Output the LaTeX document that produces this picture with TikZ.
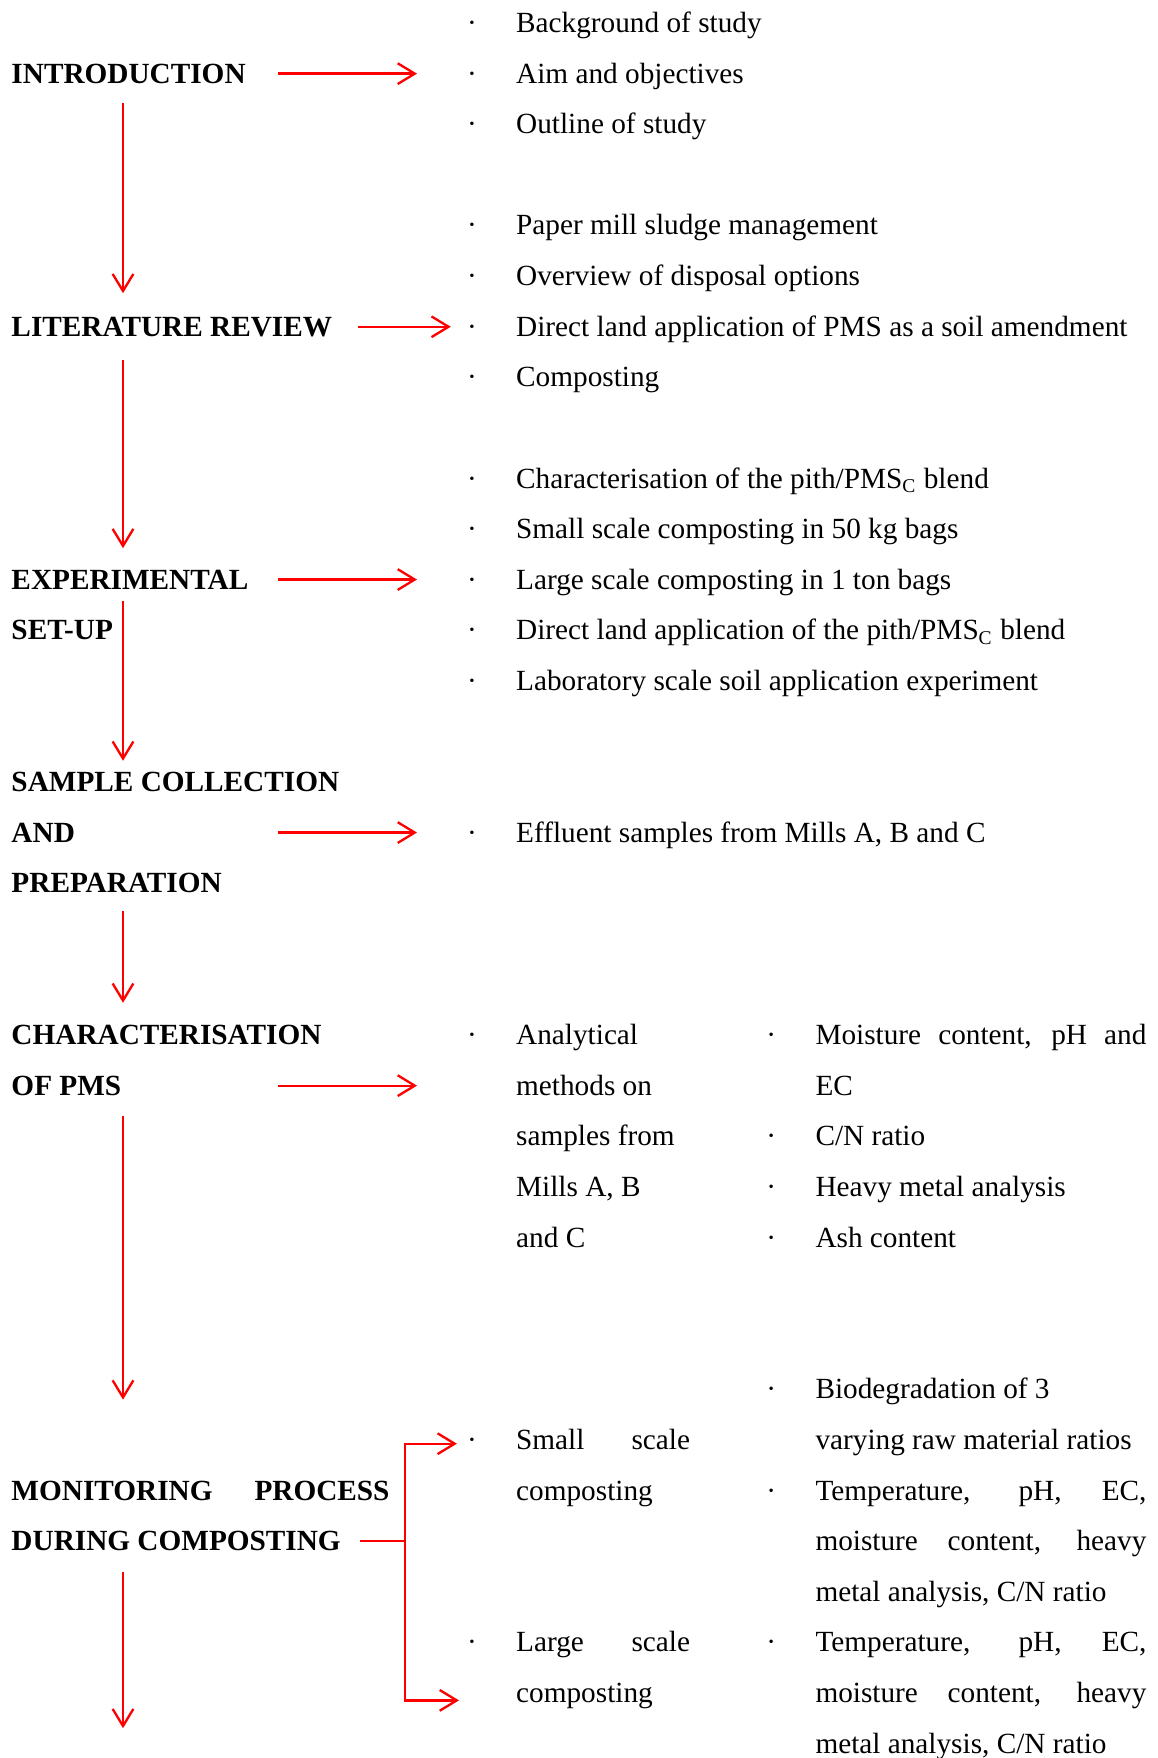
\documentclass[tikz,border=0pt]{standalone}
\usepackage{fontspec}
\setmainfont{Liberation Serif}
\usetikzlibrary{arrows.meta}
\def\bitem(#1,#2)#3#4{\node[bul] (#3b) at (#1,#2) {\textperiodcentered}; \node[txt] (#3) at (#1+43.7,#2) {#4};}
\def\jline#1#2{\makebox[#1][s]{#2}}

\begin{document}
\begin{tikzpicture}[x=0.41pt, y=-20.746pt,
		lbl/.style={anchor=base west, inner sep=0pt, font=\fontsize{12}{14}\selectfont\bfseries},
		txt/.style={anchor=base west, inner sep=0pt, font=\fontsize{12}{14}\selectfont},
		bul/.style={anchor=base, inner sep=0pt, font=\fontsize{12}{14}\selectfont},
		link/.style={red, line width=0.95pt},
		flow/.style={link, -{Straight Barb[length=7pt, width=8.5pt]}}]
		%%%%% START %%%%%
		
		\useasboundingbox (0,-0.644) rectangle (1157,34.099);
		
		\coordinate (spine) at (123,0);
		\coordinate (hs) at (278,0);
		\coordinate (he) at (417,0);
		\coordinate (fork) at (405,0);
		
		\node[lbl] (intro) at (11,1) {INTRODUCTION};
		\node[lbl] (litrev) at (11,6) {LITERATURE REVIEW};
		\node[lbl] (expt) at (11,11) {EXPERIMENTAL};
		\node[lbl] (setup) at (11,12) {SET-UP};
		\node[lbl] (sample) at (11,15) {SAMPLE COLLECTION};
		\node[lbl] (and) at (11,16) {AND};
		\node[lbl] (prep) at (11,17) {PREPARATION};
		\node[lbl] (charac) at (11,20) {CHARACTERISATION};
		\node[lbl] (ofpms) at (11,21) {OF PMS};
		\node[lbl] (monitor) at (11,29) {\jline{155pt}{MONITORING PROCESS}};
		\node[lbl] (during) at (11,30) {DURING COMPOSTING};
		
		\bitem(472,0){bg}{Background of study}
		\bitem(472,1){aim}{Aim and objectives}
		\bitem(472,2){outline}{Outline of study}
		
		\bitem(472,4){pms}{Paper mill sludge management}
		\bitem(472,5){overview}{Overview of disposal options}
		\bitem(472,6){direct}{Direct land application of PMS as a soil amendment}
		\bitem(472,7){compost}{Composting}
		
		\bitem(472,9){blend}{Characterisation of the pith/PMS\textsubscript{C} blend}
		\bitem(472,10){small}{Small scale composting in 50 kg bags}
		\bitem(472,11){large}{Large scale composting in 1 ton bags}
		\bitem(472,12){landapp}{Direct land application of the pith/PMS\textsubscript{C} blend}
		\bitem(472,13){lab}{Laboratory scale soil application experiment}
		
		\bitem(472,16){effluent}{Effluent samples from Mills A, B and C}
		
		\bitem(472,20){anal}{Analytical}
		\node[txt] (anal2) at (515.7,21) {methods on};
		\node[txt] (anal3) at (515.7,22) {samples from};
		\node[txt] (anal4) at (515.7,23) {Mills A, B};
		\node[txt] (anal5) at (515.7,24) {and C};
		\bitem(771.3,20){moist}{\jline{135.7pt}{Moisture content, pH and}}
		\node[txt] (moist2) at (815,21) {EC};
		\bitem(771.3,22){cn}{C/N ratio}
		\bitem(771.3,23){heavy}{Heavy metal analysis}
		\bitem(771.3,24){ash}{Ash content}
		
		\bitem(771.3,27){biodeg}{Biodegradation of 3}
		\node[txt] (biodeg2) at (815,28) {varying raw material ratios};
		\bitem(472,28){smallsc}{\jline{71.3pt}{Small scale}}
		\node[txt] (smallsc2) at (515.7,29) {composting};
		\bitem(771.3,29){temp}{\jline{135.7pt}{Temperature, pH, EC,}}
		\node[txt] (temp2) at (815,30) {\jline{135.7pt}{moisture content, heavy}};
		\node[txt] (temp3) at (815,31) {metal analysis, C/N ratio};
		\bitem(472,32){largesc}{\jline{71.3pt}{Large scale}}
		\node[txt] (largesc2) at (515.7,33) {composting};
		\bitem(771.3,32){tempb}{\jline{135.7pt}{Temperature, pH, EC,}}
		\node[txt] (tempb2) at (815,33) {\jline{135.7pt}{moisture content, heavy}};
		\node[txt] (tempb3) at (815,34) {metal analysis, C/N ratio};
		
		% down the left side
		\draw[flow, shorten <=8pt, shorten >=9.5pt] (intro.south -| spine) -- (litrev.north -| spine);
		\draw[flow, shorten <=9.3pt, shorten >=8.7pt] (litrev.south -| spine) -- (expt.north -| spine);
		\draw[flow, shorten <=4.5pt, shorten >=4.5pt] (expt.south -| spine) -- (sample.north -| spine);
		\draw[flow, shorten <=7.2pt, shorten >=9pt] (prep.south -| spine) -- (charac.north -| spine);
		\draw[flow, shorten <=8.2pt, shorten >=33pt] (ofpms.south -| spine) -- (monitor.north -| spine);
		\coordinate (endflow) at (123,33.51);
		\draw[flow, shorten <=8.5pt] (during.south -| spine) -- (endflow);
		
		% across to the lists
		\draw[flow] (intro.west -| hs) -- (intro.west -| he);
		\draw[flow, shorten <=10.5pt, shorten >=6.5pt] (litrev.east) -- (litrev.east -| directb.west);
		\draw[flow] (expt.west -| hs) -- (expt.west -| he);
		\draw[flow] (and.west -| hs) -- (and.west -| he);
		\draw[flow] (ofpms.west -| hs) -- (ofpms.west -| he);
		
		% fork to small and large scale
		\coordinate (lowtip) at (459,32.96);
		\draw[link, shorten <=7.5pt] (during.east) -- (during.east -| fork);
		\draw[flow, shorten >=4pt] (during.east -| fork) |- (smallscb.west);
		\draw[flow] (during.east -| fork) |- (lowtip);
		
		%%%%% END %%%%%
	\end{tikzpicture}
\end{document}
